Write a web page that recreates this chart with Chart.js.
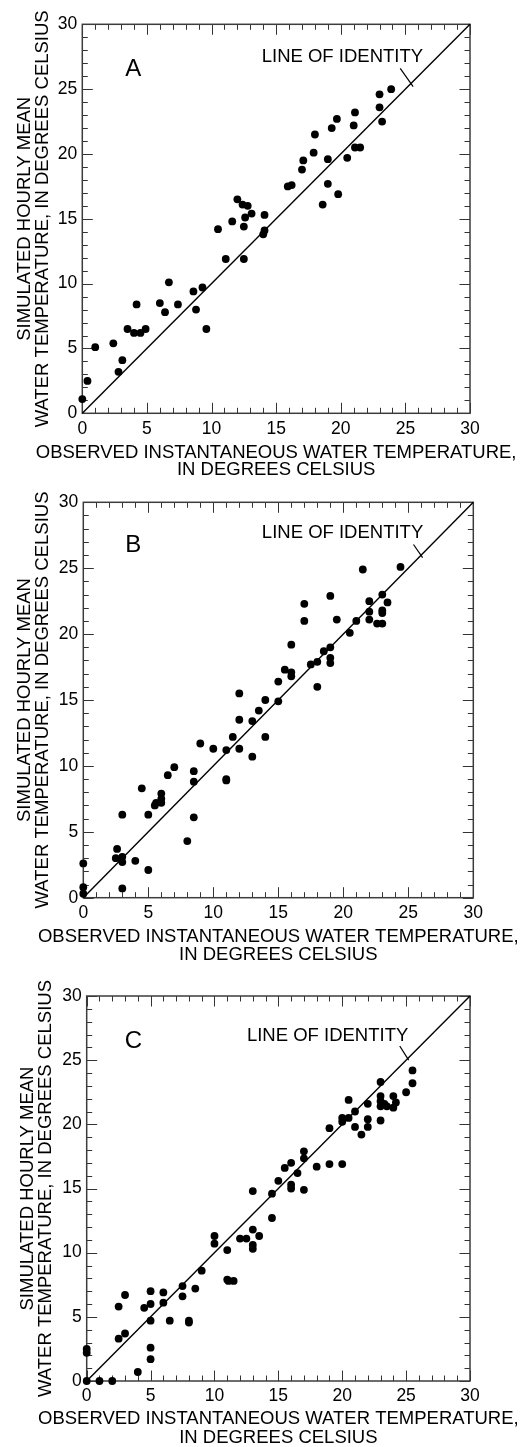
<!DOCTYPE html>
<html>
<head>
<meta charset="utf-8">
<script src="https://cdn.jsdelivr.net/npm/chart.js@4.4.1/dist/chart.umd.min.js"></script>
<style>
  html, body { margin: 0; padding: 0; background: #fff; }
  body { width: 526px; height: 1447px; position: relative; overflow: hidden; }
  canvas { position: absolute; left: 0; }
</style>
</head>
<body>
<canvas id="chartA" width="526" height="482" style="top:0px"></canvas>
<canvas id="chartB" width="526" height="484" style="top:482px"></canvas>
<canvas id="chartC" width="526" height="481" style="top:966px"></canvas>
<script>
// --- DONNEES ---
const axisTicks = [0, 5, 10, 15, 20, 25, 30];

// Panneau A
const obsA = [0.0, 0.4, 1.0, 2.4, 2.8, 3.1, 3.5, 4.0, 4.2, 4.5, 4.9, 6.0, 6.4, 6.7, 7.4, 8.6, 8.8, 9.3, 9.6, 10.5,
              11.1, 11.6, 12.0, 12.4, 12.5, 12.5, 12.6, 12.8, 13.1, 14.1, 14.0, 14.1, 15.9, 16.2, 17.0, 17.1, 17.9, 18.0, 18.6, 19.0,
              19.0, 19.3, 19.7, 19.8, 20.5, 21.0, 21.1, 21.1, 21.5, 23.0, 23.0, 23.2, 23.9];
const simA = [1.1, 2.5, 5.1, 5.4, 3.2, 4.1, 6.5, 6.2, 8.4, 6.2, 6.5, 8.5, 7.8, 10.1, 8.4, 9.4, 8.0, 9.7, 6.5, 14.2,
              11.9, 14.8, 16.5, 16.1, 14.4, 11.9, 15.1, 16.0, 15.4, 15.3, 13.8, 14.1, 17.5, 17.6, 18.8, 19.5, 20.1, 21.5, 16.1, 17.7,
              19.6, 22.0, 22.7, 16.9, 19.7, 22.2, 23.2, 20.5, 20.5, 24.6, 23.6, 22.5, 25.0];

// Panneau B
const obsB = [0.0, 0.0, 0.0, 2.6, 2.5, 3.0, 3.0, 3.0, 3.0, 4.0, 4.5, 5.0, 5.0, 5.5, 5.6, 6.0, 6.0, 6.0, 6.5, 7.0,
              8.0, 8.5, 8.5, 8.5, 9.0, 10.0, 11.0, 11.0, 11.0, 11.5, 12.0, 12.0, 12.0, 13.0, 13.0, 13.5, 14.0, 14.0, 15.0, 15.0,
              15.5, 16.0, 16.0, 16.0, 17.0, 17.0, 17.5, 18.0, 18.0, 18.5, 19.0, 19.0, 19.0, 19.0, 19.5, 20.5, 21.0, 21.5, 22.0, 22.0,
              22.0, 22.6, 23.0, 23.0, 23.0, 23.0, 23.4, 24.4];
const simB = [2.6, 0.8, 0.3, 3.7, 3.0, 3.1, 2.7, 6.3, 0.7, 2.8, 8.3, 6.3, 2.1, 7.0, 7.2, 7.9, 7.5, 7.2, 9.3, 9.9,
              4.3, 9.6, 8.8, 6.1, 11.7, 11.3, 11.2, 9.0, 8.9, 12.2, 15.5, 13.5, 11.3, 13.4, 10.7, 14.2, 15.0, 12.2, 16.4, 14.9,
              17.3, 19.2, 17.1, 16.8, 22.3, 21.0, 17.7, 17.9, 16.0, 18.7, 22.9, 19.0, 18.2, 17.8, 21.1, 20.1, 21.0, 24.9, 22.5, 21.7,
              21.1, 20.8, 20.8, 23.0, 21.8, 21.6, 22.4, 25.1];

// Panneau C
const obsC = [0.0, 0.0, 0.0, 1.0, 2.0, 2.5, 2.5, 3.0, 3.0, 4.0, 4.5, 5.0, 5.0, 5.0, 5.0, 5.0, 6.0, 6.0, 6.5, 7.5,
              7.5, 8.0, 8.0, 8.5, 9.0, 10.0, 10.0, 11.0, 11.0, 11.1, 11.5, 12.0, 12.5, 13.0, 13.0, 13.0, 13.0, 13.5, 14.5, 14.5,
              15.0, 15.5, 16.0, 16.0, 16.0, 16.5, 17.0, 17.0, 17.0, 18.0, 19.0, 19.0, 20.0, 20.0, 20.0, 20.5, 20.5, 21.0, 21.0, 21.5,
              22.0, 22.0, 22.0, 23.0, 23.0, 23.0, 23.0, 23.0, 23.3, 23.5, 24.0, 24.0, 24.2, 25.0, 25.5, 25.5];
const simC = [2.5, 2.2, 0.0, 0.0, 0.0, 5.8, 3.3, 6.7, 3.7, 0.7, 5.7, 7.0, 6.0, 4.7, 2.6, 1.7, 6.9, 6.1, 4.7, 7.4,
              6.6, 4.7, 4.55, 7.2, 8.6, 11.3, 10.7, 10.2, 7.9, 7.8, 7.8, 11.1, 11.1, 14.8, 11.8, 10.6, 10.3, 11.3, 12.7, 14.6,
              15.6, 16.6, 17.0, 15.3, 15.0, 16.2, 17.9, 17.35, 14.9, 16.7, 19.7, 16.9, 16.9, 20.5, 20.2, 21.9, 20.5, 21.0, 19.8, 19.2,
              21.6, 20.4, 19.8, 23.3, 22.2, 21.8, 21.4, 20.3, 21.6, 21.4, 22.2, 21.3, 21.7, 22.5, 24.2, 23.2];

// Ligne d'identite et traits de rappel (coordonnees en degres)
const identityX = [0, 30];
const identityY = [0, 30];
const leaderAX = [24.6, 25.6], leaderAY = [26.6, 25.2];
const leaderBX = [25.4, 26.1], leaderBY = [26.8, 25.8];
const leaderCX = [24.5, 25.2], leaderCY = [26.1, 25.0];

const xTitle = ['OBSERVED INSTANTANEOUS WATER TEMPERATURE,', 'IN DEGREES CELSIUS'];
const yTitle = ['SIMULATED HOURLY MEAN', 'WATER TEMPERATURE, IN DEGREES CELSIUS'];

const FONT = 'Liberation Sans, Arial, Helvetica, sans-serif';
const INK = '#000';

// --- PLUGIN : cadre + graduations interieures ---
const frameTicks = {
    id: 'frameTicks',
    beforeDatasetsDraw(chart) {
        const {ctx, chartArea: a, scales: {x, y}} = chart;
        ctx.save();
        ctx.strokeStyle = '#333';
        ctx.lineWidth = 1;
        for (let v = 0; v <= 30; v++) {
            const len = v % 5 === 0 ? 10.5 : 5.5;
            const px = Math.round(x.getPixelForValue(v)) + 0.5;
            const py = Math.round(y.getPixelForValue(v)) + 0.5;
            ctx.beginPath();
            ctx.moveTo(px, a.bottom); ctx.lineTo(px, a.bottom - len);
            ctx.moveTo(px, a.top); ctx.lineTo(px, a.top + len);
            ctx.moveTo(a.left, py); ctx.lineTo(a.left + len, py);
            ctx.moveTo(a.right, py); ctx.lineTo(a.right - len, py);
            ctx.stroke();
        }
        ctx.lineWidth = 1.5;
        ctx.strokeStyle = '#3c3c3c';
        ctx.strokeRect(a.left, a.top, a.right - a.left, a.bottom - a.top);
        ctx.restore();
    }
};

// --- PLUGIN : lettre, "LINE OF IDENTITY" et titre de l'axe X (sans compression) ---
const panelLabels = {
    id: 'panelLabels',
    afterDatasetsDraw(chart, args, opts) {
        const {ctx, chartArea: a, scales: {x, y}} = chart;
        ctx.save();
        ctx.fillStyle = INK;
        ctx.textBaseline = 'middle';
        ctx.textAlign = 'center';
        ctx.font = '24px ' + FONT;
        ctx.fillText(opts.letter, x.getPixelForValue(opts.letterAt[0]), y.getPixelForValue(opts.letterAt[1]));
        ctx.textAlign = 'right';
        ctx.font = '18.5px ' + FONT;
        ctx.fillText('LINE OF IDENTITY', x.getPixelForValue(opts.labelAt[0]), y.getPixelForValue(opts.labelAt[1]));

        // titre X sur deux lignes
        ctx.textAlign = 'center';
        const cx = (a.left + a.right) / 2;
        ctx.fillText(xTitle[0], cx, a.bottom + opts.titleGap[0]);
        ctx.fillText(xTitle[1], cx, a.bottom + opts.titleGap[1]);
        ctx.restore();
    }
};

function toPoints(xs, ys) {
    return xs.map((v, i) => ({x: v, y: ys[i]}));
}

function buildPanel(id, geo, obs, sim, leadX, leadY, letter, letterAt, labelAt) {
    const canvas = document.getElementById(id);
    return new Chart(canvas, {
        type: 'scatter',
        data: {
            datasets: [
                {
                    data: toPoints(obs, sim),
                    pointRadius: 3.9,
                    pointBackgroundColor: '#000',
                    pointBorderWidth: 0,
                    clip: false
                },
                {
                    type: 'line',
                    data: toPoints(identityX, identityY),
                    borderColor: '#000',
                    borderWidth: 1.4,
                    pointRadius: 0,
                    clip: false
                },
                {
                    type: 'line',
                    data: toPoints(leadX, leadY),
                    borderColor: '#000',
                    borderWidth: 1.2,
                    pointRadius: 0
                }
            ]
        },
        options: {
            responsive: false,
            animation: false,
            events: [],
            layout: { padding: { top: geo.top, right: geo.right, left: 0, bottom: 0 } },
            plugins: {
                legend: { display: false },
                tooltip: { enabled: false },
                panelLabels: { letter: letter, letterAt: letterAt, labelAt: labelAt, titleGap: geo.titleGap }
            },
            scales: {
                x: {
                    type: 'linear',
                    min: 0, max: 30,
                    afterBuildTicks: (s) => { s.ticks = axisTicks.map(v => ({value: v})); },
                    afterFit: (s) => { s.height = geo.xHeight; },
                    grid: { display: false, drawTicks: false },
                    border: { display: false },
                    ticks: { color: INK, padding: 5, maxRotation: 0, font: { family: FONT, size: 17.5 } },
                    title: { display: false }
                },
                y: {
                    type: 'linear',
                    min: 0, max: 30,
                    afterBuildTicks: (s) => { s.ticks = axisTicks.map(v => ({value: v})); },
                    afterFit: (s) => { s.width = geo.left; },
                    grid: { display: false, drawTicks: false },
                    border: { display: false },
                    ticks: { color: INK, padding: 5, font: { family: FONT, size: 17.5 } },
                    title: {
                        display: true,
                        text: yTitle,
                        color: INK,
                        padding: { top: geo.yTitlePad, bottom: 0 },
                        font: { family: FONT, size: 18.5, lineHeight: 17.5 / 18.5 }
                    }
                }
            }
        },
        plugins: [frameTicks, panelLabels]
    });
}

buildPanel('chartA', { top: 24.3, right: 56, left: 82.3, xHeight: 68.7, titleGap: [39.4, 56.7], yTitlePad: 16.25 },
    obsA, simA, leaderAX, leaderAY, 'A', [3.95, 26.5], [26.37, 27.47]);
buildPanel('chartB', { top: 20.3, right: 52.7, left: 83.3, xHeight: 68.3, titleGap: [39.6, 57.3], yTitlePad: 16.25 },
    obsB, simB, leaderBX, leaderBY, 'B', [3.85, 26.76], [26.15, 27.67]);
buildPanel('chartC', { top: 30, right: 56, left: 86.7, xHeight: 66, titleGap: [38.3, 57.3], yTitlePad: 19.25 },
    obsC, simC, leaderCX, leaderCY, 'C', [3.65, 26.45], [25.17, 26.89]);
</script>
</body>
</html>
